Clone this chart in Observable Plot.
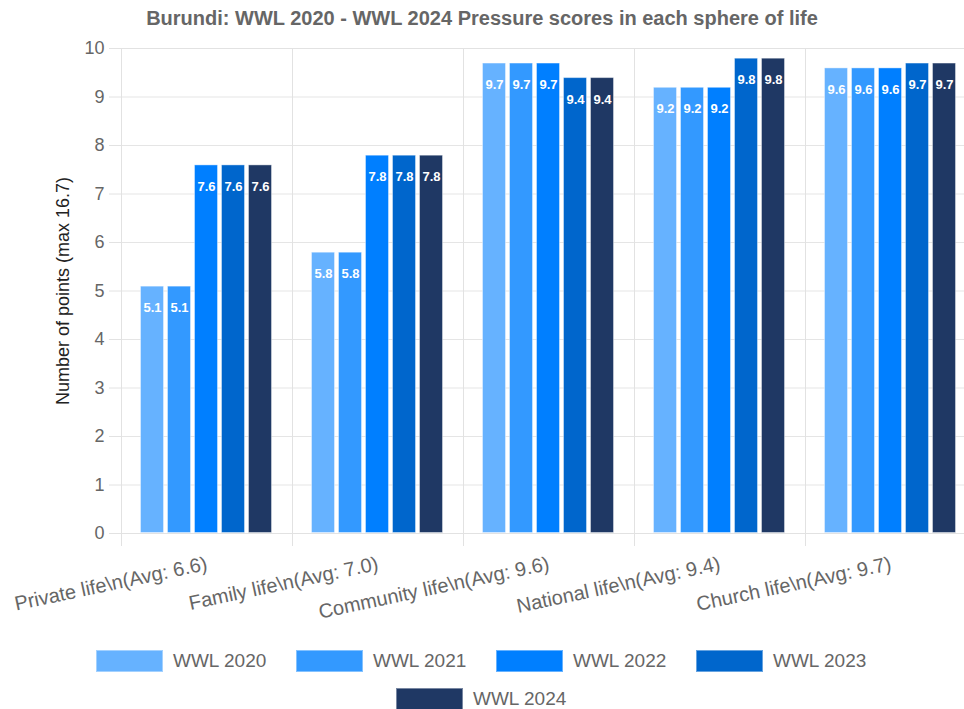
<!DOCTYPE html>
<html>
<head>
<meta charset="utf-8">
<script src="https://cdn.jsdelivr.net/npm/d3@7"></script>
<script src="https://cdn.jsdelivr.net/npm/@observablehq/plot@0.6"></script>
<style>
  html, body { margin: 0; padding: 0; background: #fff; }
  body { width: 964px; height: 709px; overflow: hidden; font-family: "Liberation Sans", Arial, sans-serif; }
  #title { height: 36px; line-height: 37px; text-align: center; font-weight: bold; font-size: 20px; color: #666; }
  #chart svg { display: block; overflow: visible; }
  #legend { display: flex; flex-wrap: wrap; justify-content: center; row-gap: 16px; padding-top: 5px; }
  .item { display: flex; align-items: center; margin: 0 14px; width: 172px; height: 22px; }
  .swatch { width: 67px; height: 22px; margin-right: 10px; box-sizing: border-box; border: 1px solid rgba(255,255,255,0.4); }
  .lab { font-size: 19px; color: #666; white-space: nowrap; }
</style>
</head>
<body>
<div id="title">Burundi: WWL 2020 - WWL 2024 Pressure scores in each sphere of life</div>
<div id="chart"></div>
<div id="legend"></div>
<script>
const categories = [
  "Private life\\n(Avg: 6.6)",
  "Family life\\n(Avg: 7.0)",
  "Community life\\n(Avg: 9.6)",
  "National life\\n(Avg: 9.4)",
  "Church life\\n(Avg: 9.7)"
];
const series = ["WWL 2020", "WWL 2021", "WWL 2022", "WWL 2023", "WWL 2024"];
const wwl2020 = [5.1, 5.8, 9.7, 9.2, 9.6];
const wwl2021 = [5.1, 5.8, 9.7, 9.2, 9.6];
const wwl2022 = [7.6, 7.8, 9.7, 9.2, 9.6];
const wwl2023 = [7.6, 7.8, 9.4, 9.8, 9.7];
const wwl2024 = [7.6, 7.8, 9.4, 9.8, 9.7];
const colors = ["#66b2ff", "#3399ff", "#007fff", "#0066cc", "#1f3864"];
const yTicks = [0, 1, 2, 3, 4, 5, 6, 7, 8, 9, 10];
const yLabel = "Number of points (max 16.7)";

const values = [wwl2020, wwl2021, wwl2022, wwl2023, wwl2024];
const data = [];
series.forEach((s, si) => categories.forEach((c, ci) => data.push({category: c, series: s, value: values[si][ci]})));

const chart = Plot.plot({
  width: 964,
  height: 609,
  marginTop: 12,
  marginBottom: 112,
  marginLeft: 120,
  marginRight: -12,
  style: {fontFamily: "'Liberation Sans', Arial, sans-serif", background: "white", overflow: "visible"},
  fx: {domain: categories, padding: 0, axis: null},
  x: {domain: series, paddingInner: 0.1, paddingOuter: 0.674, axis: null},
  y: {domain: [0, 10], axis: null},
  color: {domain: series, range: colors},
  marks: [
    Plot.gridY(yTicks, {stroke: "#e5e5e5", strokeOpacity: 1}),
    Plot.frame({stroke: "#e2e2e2"}),
    Plot.frame({anchor: "left", insetBottom: -12, stroke: "#e2e2e2"}),
    Plot.axisY(yTicks, {tickSize: 12, tickPadding: 5, stroke: "#e2e2e2", fill: "#666", fontSize: 18, label: null}),
    Plot.barY(data, {fx: "category", x: "series", y: "value", fill: "series", stroke: "white", strokeOpacity: 0.4, strokeWidth: 1, inset: 0.5}),
    Plot.text(data, {fx: "category", x: "series", y: "value", text: d => d.value.toFixed(1), dy: 22, fill: "white", fontWeight: "bold", fontSize: 13}),
    Plot.text(categories, {fx: d => d, text: d => d, frameAnchor: "bottom", dy: 30, rotate: -12, textAnchor: "end", lineAnchor: "middle", fill: "#666", fontSize: 20}),
    Plot.text([yLabel], {fx: () => categories[0], text: d => d, frameAnchor: "left", dx: -58, rotate: -90, textAnchor: "middle", lineAnchor: "middle", fill: "#222", fontSize: 18})
  ]
});
document.getElementById("chart").appendChild(chart);

const legend = document.getElementById("legend");
series.forEach((s, i) => {
  const item = document.createElement("div");
  item.className = "item";
  const sw = document.createElement("div");
  sw.className = "swatch";
  sw.style.background = colors[i];
  const lab = document.createElement("span");
  lab.className = "lab";
  lab.textContent = s;
  item.appendChild(sw);
  item.appendChild(lab);
  legend.appendChild(item);
});
</script>
</body>
</html>
